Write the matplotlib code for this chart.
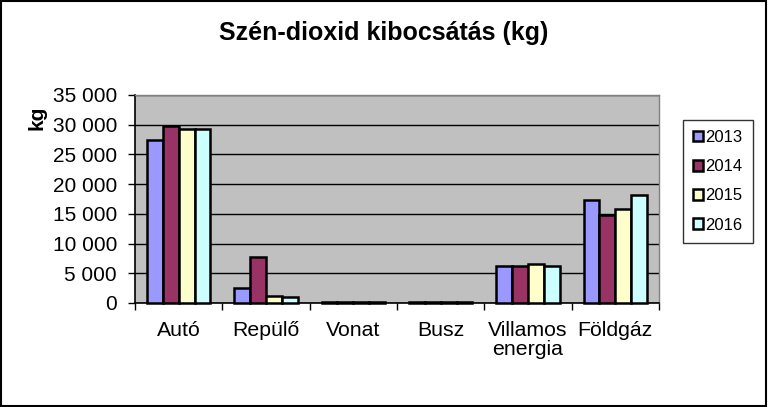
import matplotlib
matplotlib.use('Agg')
import matplotlib.pyplot as plt
import numpy as np
from matplotlib.patches import Rectangle
from matplotlib.ticker import FuncFormatter, MultipleLocator

plt.rcParams['font.family'] = ['Liberation Sans', 'DejaVu Sans']

# adatok
categories = ['Autó', 'Repülő', 'Vonat', 'Busz', 'Villamos\nenergia', 'Földgáz']
years = ['2013', '2014', '2015', '2016']
v2013 = [27500, 2450, 150, 130, 6150, 17250]
v2014 = [29700, 7700, 150, 130, 6300, 14850]
v2015 = [29300, 1150, 150, 130, 6500, 15900]
v2016 = [29200, 950, 150, 130, 6150, 18150]
series = [v2013, v2014, v2015, v2016]
colors = ['#9999FF', '#993366', '#FFFFCC', '#CCFFFF']

fig = plt.figure(figsize=(7.68, 4.07), dpi=100)
ax = fig.add_axes([135 / 768, 1 - 303 / 407, (659 - 135) / 768, (303 - 95) / 407])
ax.set_facecolor('#C0C0C0')

x = np.arange(len(categories))
w = 1 / 5.5
for i, (vals, c) in enumerate(zip(series, colors)):
    ax.bar(x + (i - 1.5) * w, vals, width=w, color=c, edgecolor='black',
           linewidth=1.8, label=years[i], zorder=3, clip_on=False)

ax.set_xlim(-0.5, len(categories) - 0.5)
ax.set_ylim(0, 35000)
ax.yaxis.set_major_locator(MultipleLocator(5000))
ax.yaxis.set_major_formatter(FuncFormatter(lambda v, p: f'{int(v):,}'.replace(',', ' ')))
ax.grid(axis='y', color='black', linewidth=1, zorder=0)
ax.set_axisbelow(True)

ax.set_xticks(x)
ax.set_xticklabels(categories, fontsize=15.3, linespacing=1.0)
ax.tick_params(axis='x', length=0, pad=13)
ax.set_xticks(np.arange(len(categories) + 1) - 0.5, minor=True)
ax.tick_params(axis='x', which='minor', length=5, width=1, direction='out')
ax.tick_params(axis='y', labelsize=15, length=5, width=1, direction='out', pad=8)

for s in ['top', 'right']:
    ax.spines[s].set_color('#808080')
    ax.spines[s].set_linewidth(1)
for s in ['left', 'bottom']:
    ax.spines[s].set_color('black')
    ax.spines[s].set_linewidth(1.2)

ax.set_ylabel('kg', fontsize=15, fontweight='bold')
ax.yaxis.set_label_coords(-89 / 524, (303 - 118) / 208)

fig.text(384 / 768, 1 - 33 / 407, 'Szén-dioxid kibocsátás (kg)', fontsize=18,
         fontweight='bold', ha='center', va='center')

leg = fig.legend(loc='upper left', bbox_to_anchor=(683 / 768, 1 - 120 / 407),
                 fontsize=12, frameon=True, fancybox=False, edgecolor='black',
                 handlelength=0.6, handleheight=0.6, handletextpad=0.15,
                 labelspacing=0.85, borderpad=0.6, borderaxespad=0)
leg.get_frame().set_linewidth(1)

fig.add_artist(Rectangle((0.001, 0.002), 0.997, 0.996, transform=fig.transFigure,
                         fill=False, edgecolor='black', linewidth=1.5))

fig.savefig('out.png', dpi=100)
